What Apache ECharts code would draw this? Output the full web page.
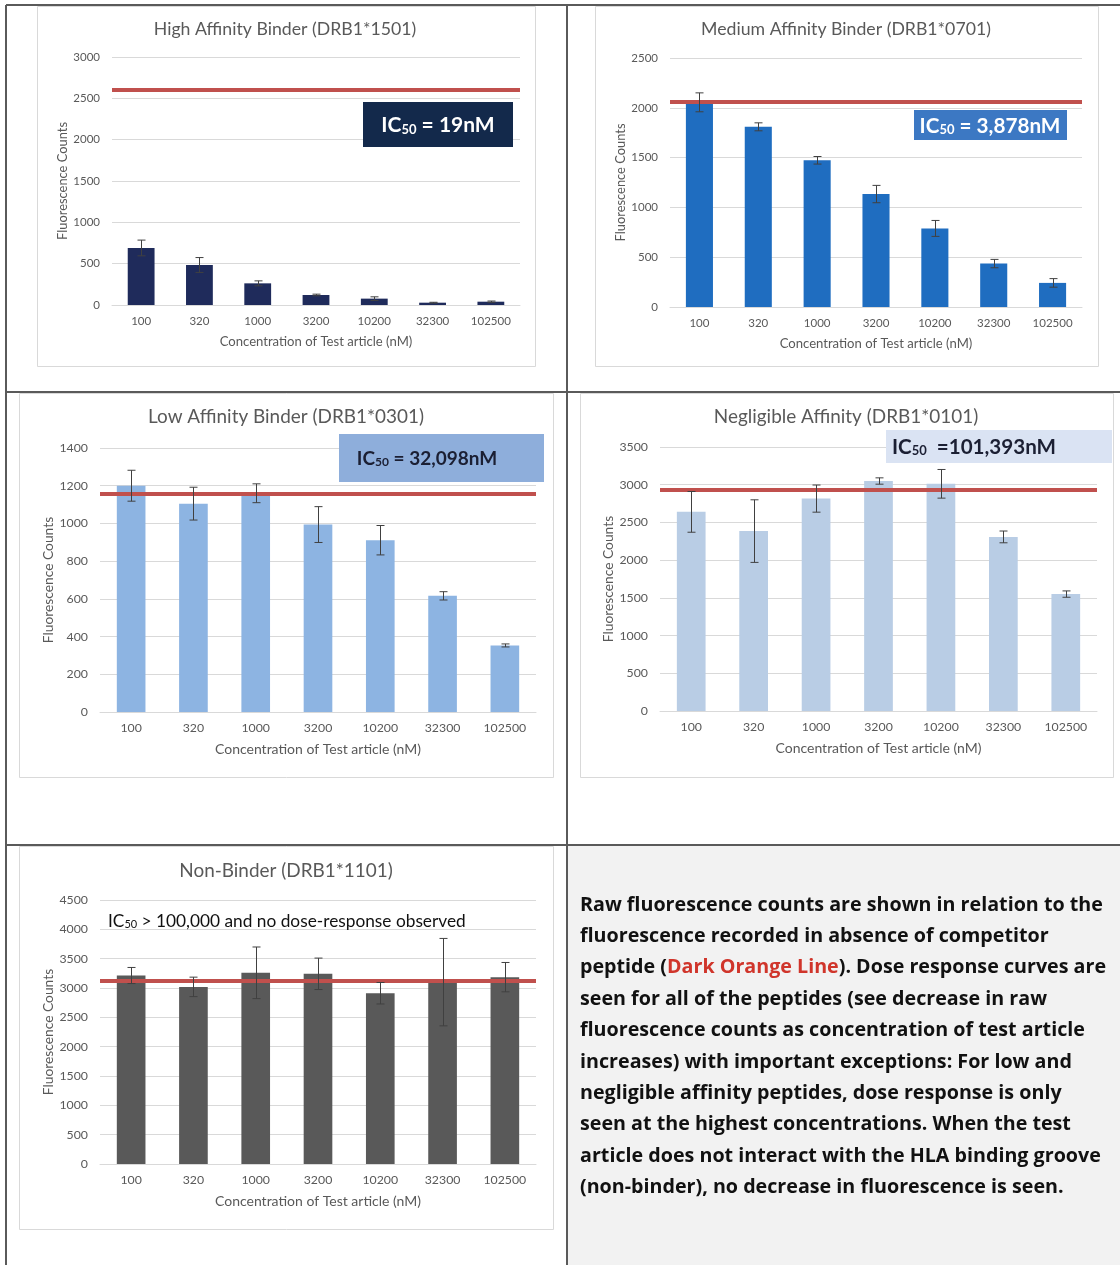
<!DOCTYPE html>
<html>
<head>
<meta charset="utf-8">
<script src="https://cdn.jsdelivr.net/npm/echarts@6/dist/echarts.min.js"></script>
<style>
  html, body { margin: 0; padding: 0; background: #ffffff; }
  #chart { width: 1120px; height: 1265px; }
</style>
</head>
<body>
<div id="chart"></div>
<script>
// Concentrations of test article (nM) shared by every panel
var concentrations = ['100', '320', '1000', '3200', '10200', '32300', '102500'];

// Mean fluorescence counts and error (+/-) per concentration
var highMean = [690, 484, 262, 121, 77, 28, 40];
var highErr = [95, 90, 30, 10, 22, 5, 8];

var mediumMean = [2055, 1809, 1473, 1134, 789, 436, 242];
var mediumErr = [95, 40, 38, 87, 80, 42, 43];

var lowMean = [1200, 1105, 1160, 994, 911, 616, 353];
var lowErr = [82, 87, 50, 95, 78, 22, 8];

var negMean = [2640, 2385, 2816, 3049, 3012, 2308, 1550];
var negErr = [270, 415, 180, 42, 190, 78, 42];

var nonMean = [3213, 3019, 3259, 3242, 2911, 3100, 3185];
var nonErr = [137, 166, 440, 268, 183, 745, 250];

// Fluorescence without competitor peptide (reference line)
var baselines = [2600, 2060, 1160, 2930, 3120];

// Panel titles and y-axis ranges
var panelTitles = [
  'High Affinity Binder (DRB1*1501)',
  'Medium Affinity Binder (DRB1*0701)',
  'Low Affinity Binder (DRB1*0301)',
  'Negligible Affinity (DRB1*0101)',
  'Non-Binder (DRB1*1101)'
];
var yMax = [3000, 2500, 1400, 3500, 4500];
var yStep = [500, 500, 200, 500, 500];

var FONT = 'Lato, "Open Sans", sans-serif';
var GREY = '#595959';
var RED = '#c0504d';

var means = [highMean, mediumMean, lowMean, negMean, nonMean];
var errs = [highErr, mediumErr, lowErr, negErr, nonErr];
var barColors = ['#1f2b5b', '#1f6dc0', '#8db4e2', '#b9cde5', '#595959'];

// Layout of each plotting area (the lower three charts use slightly larger type)
var grids = [
  { left: 112, top: 57, width: 408, height: 248 },
  { left: 670, top: 58, width: 412, height: 249 },
  { left: 100, top: 448, width: 436, height: 264 },
  { left: 660, top: 447, width: 437, height: 264 },
  { left: 100, top: 900, width: 436, height: 264 }
];
var typeScale = [1, 1, 1.07, 1.07, 1.07];
var titlePos = [[285, 20], [846, 20], [286, 407], [846, 407], [286, 861]];
var yNameGap = [38, 38, 42, 41, 41];

function errRender(params, api) {
  var x = api.value(0);
  var top = api.coord([x, api.value(2)]);
  var bot = api.coord([x, api.value(1)]);
  var cx = Math.round(top[0]) + 0.5;
  var cap = 4;
  var st = { stroke: '#404040', lineWidth: 1 };
  return {
    type: 'group',
    children: [
      { type: 'line', shape: { x1: cx, y1: top[1], x2: cx, y2: bot[1] }, style: st },
      { type: 'line', shape: { x1: cx - cap, y1: top[1], x2: cx + cap, y2: top[1] }, style: st },
      { type: 'line', shape: { x1: cx - cap, y1: bot[1], x2: cx + cap, y2: bot[1] }, style: st }
    ]
  };
}

var option = {
  backgroundColor: '#ffffff',
  animation: false,
  title: [],
  grid: [],
  xAxis: [],
  yAxis: [],
  series: [],
  graphic: []
};

for (var i = 0; i < 5; i++) {
  var s = typeScale[i];
  option.title.push({
    text: panelTitles[i],
    left: titlePos[i][0],
    top: titlePos[i][1],
    padding: 0,
    textAlign: 'center',
    textStyle: { fontFamily: FONT, fontSize: 17.7 * s, fontWeight: 'normal', color: GREY }
  });
  option.grid.push(grids[i]);
  option.xAxis.push({
    type: 'category',
    gridIndex: i,
    data: concentrations,
    axisLine: { lineStyle: { color: '#d9d9d9' } },
    axisTick: { show: false },
    axisLabel: { color: GREY, fontFamily: FONT, fontSize: 11.5 * s, margin: 10 },
    name: 'Concentration of Test article (nM)',
    nameLocation: 'middle',
    nameGap: 30,
    nameTextStyle: { color: GREY, fontFamily: FONT, fontSize: 13.1 * s }
  });
  option.yAxis.push({
    type: 'value',
    gridIndex: i,
    min: 0,
    max: yMax[i],
    interval: yStep[i],
    axisLine: { show: false },
    axisTick: { show: false },
    splitLine: { lineStyle: { color: '#d9d9d9' } },
    axisLabel: {
      color: GREY, fontFamily: FONT, fontSize: 11.5 * s, margin: 12,
      formatter: function (v) { return String(v); }
    },
    name: 'Fluorescence Counts',
    nameLocation: 'middle',
    nameGap: yNameGap[i],
    nameTextStyle: { color: GREY, fontFamily: FONT, fontSize: 12.9 * s }
  });
  option.series.push({
    type: 'bar',
    xAxisIndex: i,
    yAxisIndex: i,
    data: means[i],
    barWidth: '46%',
    itemStyle: { color: barColors[i] },
    markLine: {
      silent: true,
      symbol: 'none',
      z: 5,
      label: { show: false },
      lineStyle: { color: RED, width: 4, type: 'solid' },
      data: [{ yAxis: baselines[i] }]
    }
  });
  var eb = [];
  for (var k = 0; k < means[i].length; k++) {
    eb.push([k, means[i][k] - errs[i][k], means[i][k] + errs[i][k]]);
  }
  option.series.push({
    type: 'custom',
    xAxisIndex: i,
    yAxisIndex: i,
    z: 10,
    renderItem: errRender,
    data: eb
  });
}

// Cell backgrounds, chart frames and cell borders
var g = option.graphic;
g.push({ type: 'rect', z: -10, shape: { x: 568, y: 846, width: 552, height: 419 }, style: { fill: '#f2f2f2' } });
var frames = [[37, 6, 498, 360], [595, 6, 503, 360], [19, 393, 534, 384], [580, 393, 533, 384], [19, 846, 534, 383]];
frames.forEach(function (f) {
  g.push({ type: 'rect', z: -5, shape: { x: f[0] + 0.5, y: f[1] + 0.5, width: f[2], height: f[3] }, style: { fill: null, stroke: '#d9d9d9', lineWidth: 1 } });
});
var borderStyle = { stroke: '#5a5a5a', lineWidth: 2 };
g.push({ type: 'line', z: 20, shape: { x1: 6, y1: 5, x2: 1120, y2: 5 }, style: borderStyle });
g.push({ type: 'line', z: 20, shape: { x1: 6, y1: 5, x2: 6, y2: 1265 }, style: borderStyle });
g.push({ type: 'line', z: 20, shape: { x1: 567, y1: 5, x2: 567, y2: 1265 }, style: borderStyle });
g.push({ type: 'line', z: 20, shape: { x1: 6, y1: 392, x2: 1120, y2: 392 }, style: borderStyle });
g.push({ type: 'line', z: 20, shape: { x1: 6, y1: 845, x2: 1120, y2: 845 }, style: borderStyle });

// IC50 callouts
function ic50Box(x, y, w, h, fill, color, value, size, textX) {
  g.push({ type: 'rect', z: 30, shape: { x: x, y: y, width: w, height: h }, style: { fill: fill } });
  g.push({
    type: 'text', z: 31,
    x: textX, y: y + h / 2,
    style: {
      text: '{a|IC}{s|50}{a|' + value + '}',
      textAlign: 'center',
      textVerticalAlign: 'middle',
      rich: {
        a: { fontFamily: FONT, fontWeight: 'bold', fontSize: size, fill: color, color: color, verticalAlign: 'bottom', lineHeight: size + 2 },
        s: { fontFamily: FONT, fontWeight: 'bold', fontSize: Math.round(size * 0.62), fill: color, color: color, verticalAlign: 'bottom', lineHeight: size - 2 }
      }
    }
  });
}
ic50Box(363, 102, 150, 45, '#13294b', '#ffffff', ' = 19nM', 21, 438);
ic50Box(914, 110, 153, 30, '#3c78c3', '#ffffff', ' = 3,878nM', 20.7, 990);
ic50Box(339, 434, 205, 48, '#8eaedb', '#1b1f33', ' = 32,098nM', 19, 427);
ic50Box(886, 430, 226, 33, '#dae3f3', '#1b1f33', '  =101,393nM', 20.6, 974);

g.push({
  type: 'text', z: 31, x: 108, y: 920,
  style: {
    text: '{a|IC}{s|50}{a| > 100,000 and no dose-response observed}',
    textVerticalAlign: 'middle',
    rich: {
      a: { fontFamily: FONT, fontSize: 17.3, fill: '#111111', verticalAlign: 'bottom', lineHeight: 19 },
      s: { fontFamily: FONT, fontSize: 11, fill: '#111111', verticalAlign: 'bottom', lineHeight: 15 }
    }
  }
});

// Explanatory note
var NOTE_FONT = '"Open Sans", Lato, sans-serif';
var noteLines = [
  'Raw fluorescence counts are shown in relation to the',
  'fluorescence recorded in absence of competitor',
  'peptide ({r|Dark Orange Line}). Dose response curves are',
  'seen for all of the peptides (see decrease in raw',
  'fluorescence counts as concentration of test article',
  'increases) with important exceptions: For low and',
  'negligible affinity peptides, dose response is only',
  'seen at the highest concentrations. When the test',
  'article does not interact with the HLA binding groove',
  '(non-binder), no decrease in fluorescence is seen.'
];
noteLines.forEach(function (line, idx) {
  g.push({
    type: 'text', z: 31, x: 580, y: 905 + idx * 31.4,
    style: {
      text: line,
      textVerticalAlign: 'middle',
      fontFamily: NOTE_FONT, fontWeight: 'bold', fontSize: 19.7, fill: '#111111',
      rich: { r: { fontFamily: NOTE_FONT, fontWeight: 'bold', fontSize: 19.7, fill: '#d0352b', color: '#d0352b' } }
    }
  });
});

var chart = echarts.init(document.getElementById('chart'), null, { renderer: 'canvas' });
chart.setOption(option);
</script>
</body>
</html>
